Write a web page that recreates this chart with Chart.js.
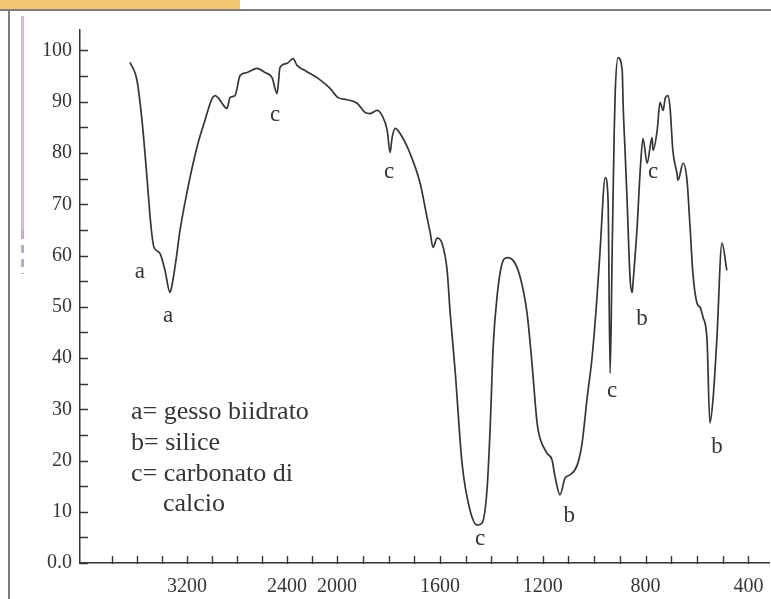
<!DOCTYPE html>
<html>
<head>
<meta charset="utf-8">
<title>Spettro IR</title>
<script src="https://cdn.jsdelivr.net/npm/chart.js@4.4.1/dist/chart.umd.min.js"></script>
<style>
  html, body { margin: 0; padding: 0; background: #fff; }
  #wrap { width: 771px; height: 599px; }
</style>
</head>
<body>
<div id="wrap"><canvas id="irChart" width="771" height="599"></canvas></div>
<script>
// Spectrum: wavenumber (cm-1) and transmittance (%)
const wavenumbers = [
    3656, 3600, 3560, 3520, 3496, 3480, 3464, 3416, 3376, 3336,
    3320, 3288, 3256, 3176, 3112, 3056, 3000, 2976, 2952, 2880,
    2856, 2816, 2776, 2720, 2640, 2576, 2520, 2480, 2456, 2400,
    2352, 2320, 2256, 2160, 2056, 1996, 1961, 1922, 1891, 1872,
    1844, 1825, 1805, 1794, 1786, 1774, 1755, 1716, 1677, 1650,
    1638, 1627, 1611, 1592, 1572, 1560, 1541, 1514, 1483, 1455,
    1436, 1417, 1405, 1393, 1378, 1358, 1339, 1316, 1288, 1261,
    1242, 1222, 1211, 1183, 1164, 1152, 1133, 1113, 1094, 1066,
    1047, 1027, 1008, 989, 977, 957, 946, 938, 930, 922,
    918, 907, 891, 887, 880, 872, 860, 852, 849, 833,
    821, 810, 794, 775, 771, 755, 744, 732, 724, 713,
    705, 694, 678, 674, 654, 639, 627, 616, 600, 588,
    577, 561, 550, 538, 523, 503, 484
];
const transmittance = [
    97.7, 94.2, 86.4, 75.2, 67.8, 63.9, 61.6, 60.4, 57.1, 52.8,
    54.2, 59.1, 64.9, 75.2, 81.9, 86.4, 90.6, 91.2, 90.8, 88.7,
    90.8, 91.2, 95.1, 95.7, 96.5, 95.7, 94.7, 91.6, 96.7, 97.5,
    98.4, 97.1, 96.1, 94.7, 92.6, 90.8, 90.4, 89.7, 87.9, 87.7,
    88.3, 87.3, 84.4, 80.1, 83.0, 84.8, 83.8, 79.9, 74.1, 67.4,
    64.5, 61.6, 63.4, 62.4, 57.1, 48.7, 37.6, 19.5, 10.3, 7.4,
    7.8, 14.2, 25.9, 42.1, 51.9, 58.5, 59.6, 59.1, 55.8, 48.7,
    39.0, 27.3, 24.4, 21.4, 20.1, 16.8, 13.3, 16.6, 17.2, 19.1,
    23.4, 32.4, 40.2, 51.9, 61.0, 75.2, 70.8, 37.0, 61.0, 84.4,
    92.2, 98.6, 96.1, 88.9, 80.5, 70.8, 55.2, 52.8, 54.6, 65.5,
    76.6, 82.8, 78.0, 83.0, 80.5, 84.4, 89.9, 88.3, 90.6, 91.2,
    88.9, 80.5, 76.0, 74.7, 78.0, 74.7, 65.5, 56.5, 50.7, 49.9,
    48.0, 43.5, 27.3, 31.8, 43.5, 62.4, 57.1
];

// Axis ticks
const xTickMarks = [3800, 3600, 3400, 3200, 3000, 2800, 2600, 2400, 2200, 2000,
    1900, 1800, 1700, 1600, 1500, 1400, 1300, 1200, 1100, 1000,
    900, 800, 700, 600, 500, 400];
const xTickLabels = [3200, 2400, 2000, 1600, 1200, 800, 400];
const yTickMarks = [0, 5, 10, 15, 20, 25, 30, 35, 40, 45, 50, 55, 60, 65, 70, 75, 80, 85, 90, 95, 100];
const yTickLabels = [0, 10, 20, 30, 40, 50, 60, 70, 80, 90, 100];

// Band letters on the spectrum
const bandLetters = ['a', 'a', 'c', 'c', 'c', 'b', 'c', 'b', 'c', 'b'];
const bandLetterW = [3576, 3352, 2496, 1798, 1444, 1097, 930, 814, 771, 522];
const bandLetterT = [56.6, 48.0, 87.2, 76.1, 4.5, 9.0, 33.4, 47.4, 76.1, 22.4];

// Key text
const keyLines = ['a= gesso biidrato', 'b= silice', 'c= carbonato di', 'calcio'];

// the scale is halved above 2000 cm-1
function toU(w) {
    return w > 2000 ? -(w - 2000) * 0.4865 : 2000 - w;
}

const serif = "'Liberation Serif', 'DejaVu Serif', serif";
const ink = '#353535';

const points = wavenumbers.map((w, i) => ({ x: toU(w), y: transmittance[i] }));

const decor = {
    id: 'decor',
    beforeDraw(chart) {
        const ctx = chart.ctx;
        ctx.save();
        ctx.fillStyle = '#ffffff';
        ctx.fillRect(0, 0, chart.width, chart.height);
        // page frame
        ctx.fillStyle = '#f3c673';
        ctx.fillRect(0, 0, 240, 9);
        ctx.fillStyle = '#7d7d7d';
        ctx.fillRect(0, 9, chart.width, 2);
        ctx.fillRect(8, 9, 2, chart.height - 9);
        ctx.fillStyle = '#d9b3e3';
        ctx.fillRect(21, 16, 3, 215);
        ctx.setLineDash([8, 6]);
        ctx.strokeStyle = '#c9a1db';
        ctx.lineWidth = 3;
        ctx.beginPath();
        ctx.moveTo(22.5, 231);
        ctx.lineTo(22.5, 274);
        ctx.stroke();
        ctx.restore();
    },
    afterDraw(chart) {
        const ctx = chart.ctx;
        const xs = chart.scales.x;
        const ys = chart.scales.y;
        const area = chart.chartArea;
        ctx.save();
        ctx.strokeStyle = ink;
        ctx.lineWidth = 1.4;
        ctx.beginPath();
        yTickMarks.forEach(v => {
            const py = Math.round(ys.getPixelForValue(v)) + 0.5;
            ctx.moveTo(area.left, py);
            ctx.lineTo(area.left + 8, py);
        });
        xTickMarks.forEach(w => {
            const px = Math.round(xs.getPixelForValue(toU(w))) + 0.5;
            ctx.moveTo(px, area.bottom + 1);
            ctx.lineTo(px, area.bottom - 7);
        });
        ctx.stroke();

        ctx.fillStyle = ink;
        ctx.font = '23px ' + serif;
        ctx.textAlign = 'center';
        ctx.textBaseline = 'alphabetic';
        bandLetters.forEach((s, i) => {
            const px = xs.getPixelForValue(toU(bandLetterW[i]));
            const py = ys.getPixelForValue(bandLetterT[i]);
            ctx.fillText(s, px, py + 5);
        });

        ctx.font = '26px ' + serif;
        ctx.textAlign = 'left';
        const baselines = [419, 450, 481, 511];
        keyLines.forEach((s, i) => {
            const left = i === 3 ? area.left + 83 : area.left + 51;
            ctx.fillText(s, left, baselines[i]);
        });
        ctx.restore();
    }
};

new Chart(document.getElementById('irChart'), {
    type: 'line',
    data: {
        datasets: [{
            data: points,
            borderColor: ink,
            borderWidth: 1.7,
            pointRadius: 0,
            fill: false,
            cubicInterpolationMode: 'monotone'
        }]
    },
    options: {
        responsive: false,
        animation: false,
        events: [],
        layout: { padding: { top: 30, right: 2, left: 0, bottom: 0 } },
        plugins: {
            legend: { display: false },
            tooltip: { enabled: false }
        },
        scales: {
            x: {
                type: 'linear',
                min: -1000,
                max: 1680,
                grid: { display: false, drawTicks: false },
                border: { display: true, color: ink, width: 1.5 },
                afterBuildTicks: (scale) => {
                    scale.ticks = xTickLabels.map(w => ({ value: toU(w) }));
                },
                afterFit: (scale) => {
                    scale.height = 36;
                    scale.paddingLeft = 0;
                    scale.paddingRight = 0;
                },
                ticks: {
                    autoSkip: false,
                    maxRotation: 0,
                    padding: 12,
                    color: ink,
                    font: { family: serif, size: 20 },
                    callback: function(value) {
                        const w = xTickLabels.find(t => Math.abs(toU(t) - value) < 0.5);
                        return w === undefined ? '' : String(w);
                    }
                }
            },
            y: {
                type: 'linear',
                min: 0,
                max: 104,
                grid: { display: false, drawTicks: false },
                border: { display: true, color: ink, width: 1.5 },
                afterBuildTicks: (scale) => {
                    scale.ticks = yTickLabels.map(v => ({ value: v }));
                },
                afterFit: (scale) => {
                    scale.width = 80;
                    scale.paddingTop = 0;
                    scale.paddingBottom = 0;
                },
                ticks: {
                    autoSkip: false,
                    padding: 8,
                    color: ink,
                    font: { family: serif, size: 20 },
                    callback: function(value) {
                        return value === 0 ? '0.0' : String(value);
                    }
                }
            }
        }
    },
    plugins: [decor]
});
</script>
</body>
</html>
